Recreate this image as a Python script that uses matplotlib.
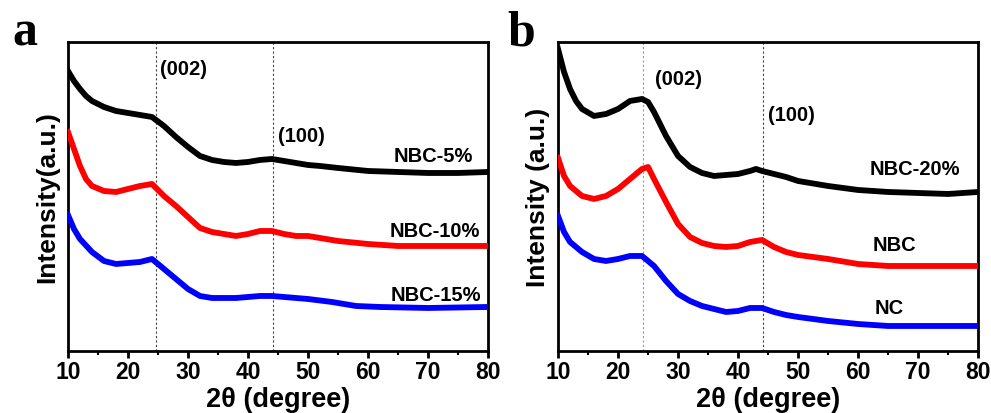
import matplotlib
matplotlib.use("Agg")
import matplotlib.pyplot as plt
from matplotlib.ticker import MultipleLocator

plt.rcParams['font.family'] = ['Liberation Sans', 'DejaVu Sans']
plt.rcParams['font.weight'] = 'bold'

# ---- Panel a data (2theta in degrees, intensity in arbitrary units) ----
xa_5 = [10, 11, 12, 13, 14, 16, 18, 20, 22, 24, 26, 28, 30, 32, 34, 36, 38, 40, 42, 44, 46, 48, 50, 52, 55, 60, 65, 70, 75, 80]
ya_5 = [280, 270, 262, 255, 250, 244, 240, 238, 236, 234, 225, 214, 204, 195, 191, 189, 188, 189, 191, 192, 190, 188, 186, 185, 183, 180, 179, 178, 178, 179]

xa_10 = [10, 11, 12, 13, 14, 16, 18, 20, 22, 24, 26, 28, 30, 32, 34, 36, 38, 40, 42, 44, 46, 48, 50, 55, 60, 65, 70, 75, 80]
ya_10 = [219, 202, 185, 172, 165, 160, 159, 162, 165, 167, 155, 145, 134, 123, 119, 117, 115, 117, 120, 120, 117, 115, 115, 110, 107, 105, 105, 105, 105]

xa_15 = [10, 11, 12, 14, 16, 18, 20, 22, 24, 26, 28, 30, 32, 34, 36, 38, 40, 42, 44, 46, 50, 54, 58, 62, 70, 80]
ya_15 = [136, 122, 112, 99, 90, 87, 88, 89, 92, 82, 72, 62, 55, 53, 53, 53, 54, 55, 55, 54, 52, 49, 45, 44, 43, 44]

# ---- Panel b data ----
xb_20 = [10, 11, 12, 13, 14, 16, 18, 20, 22, 24, 25, 26, 28, 30, 32, 34, 36, 38, 40, 42, 43, 44, 46, 48, 50, 55, 60, 65, 70, 75, 80]
yb_20 = [302, 279, 262, 250, 242, 235, 237, 242, 250, 252, 249, 239, 215, 195, 184, 178, 175, 176, 177, 180, 182, 180, 177, 174, 170, 165, 161, 159, 158, 157, 159]

xb_nbc = [10, 11, 12, 14, 16, 18, 20, 22, 24, 25, 26, 28, 30, 32, 34, 36, 38, 40, 42, 44, 46, 48, 50, 55, 60, 65, 70, 75, 80]
yb_nbc = [193, 175, 165, 155, 152, 155, 162, 172, 182, 184, 172, 149, 127, 114, 108, 105, 104, 105, 109, 111, 104, 99, 96, 92, 87, 85, 85, 85, 85]

xb_nc = [10, 11, 12, 14, 16, 18, 20, 22, 24, 26, 28, 30, 32, 34, 36, 38, 40, 42, 44, 46, 48, 50, 55, 60, 65, 70, 80]
yb_nc = [135, 119, 109, 99, 92, 90, 92, 95, 95, 85, 70, 57, 50, 45, 42, 39, 40, 43, 43, 39, 36, 34, 30, 27, 25, 25, 25]

xticks = [10, 20, 30, 40, 50, 60, 70, 80]
peak_lines_a = [24.6, 44.1]
peak_lines_b = [24.1, 44.2]

fig = plt.figure(figsize=(9.91, 4.14), dpi=100)
ax_a = fig.add_axes([0.0686, 0.1498, 0.4238, 0.7464])
ax_b = fig.add_axes([0.5631, 0.1498, 0.4238, 0.7464])

LW = 4.2

def style(ax, ylabel):
    ax.set_xlim(10, 80)
    ax.set_ylim(0, 309)
    ax.set_xticks(xticks)
    ax.xaxis.set_minor_locator(MultipleLocator(5))
    ax.set_yticks([])
    for s in ax.spines.values():
        s.set_linewidth(2.0)
    ax.tick_params(axis='x', which='major', direction='out', length=5, width=2,
                   labelsize=16.5, pad=1.5)
    ax.tick_params(axis='x', which='minor', direction='out', length=3, width=1.5)
    for lab in ax.get_xticklabels():
        lab.set_fontweight('bold')
    ax.set_xlabel('2θ (degree)', fontsize=19.5, fontweight='bold', labelpad=2)
    ax.set_ylabel(ylabel, fontsize=19, fontweight='bold', labelpad=6)

# Panel a
for xv in peak_lines_a:
    ax_a.axvline(xv, color='#444444', lw=0.8, ls=(0, (2, 2)), zorder=1)
ax_a.plot(xa_5, ya_5, color='black', lw=LW, zorder=3)
ax_a.plot(xa_10, ya_10, color='#ff0000', lw=LW, zorder=3)
ax_a.plot(xa_15, ya_15, color='#0000ff', lw=LW, zorder=3)
style(ax_a, 'Intensity(a.u.)')
tk = dict(fontsize=14.5, fontweight='bold', va='center')
ax_a.text(25.3, 282, '(002)', ha='left', **tk)
ax_a.text(45.0, 215, '(100)', ha='left', **tk)
ax_a.text(77.5, 195, 'NBC-5%', ha='right', **tk)
ax_a.text(78.7, 120, 'NBC-10%', ha='right', **tk)
ax_a.text(78.8, 56, 'NBC-15%', ha='right', **tk)

# Panel b
ax_b.axvline(peak_lines_b[0], color='#999999', lw=0.8, ls=(0, (2, 2)), zorder=1)
ax_b.axvline(peak_lines_b[1], color='#444444', lw=0.8, ls=(0, (2, 2)), zorder=1)
ax_b.plot(xb_20, yb_20, color='black', lw=LW, zorder=3)
ax_b.plot(xb_nbc, yb_nbc, color='#ff0000', lw=LW, zorder=3)
ax_b.plot(xb_nc, yb_nc, color='#0000ff', lw=LW, zorder=3)
style(ax_b, 'Intensity (a.u.)')
ax_b.text(26.2, 272, '(002)', ha='left', **tk)
ax_b.text(45.0, 236, '(100)', ha='left', **tk)
ax_b.text(77.0, 182, 'NBC-20%', ha='right', **tk)
ax_b.text(69.7, 106, 'NBC', ha='right', **tk)
ax_b.text(67.7, 43, 'NC', ha='right', **tk)

fig.text(0.012, 0.891, 'a', fontsize=36, fontweight='bold', family='Liberation Serif', va='baseline')
fig.text(0.512, 0.891, 'b', fontsize=36, fontweight='bold', family='Liberation Serif', va='baseline')

fig.savefig('out.png', dpi=100)
